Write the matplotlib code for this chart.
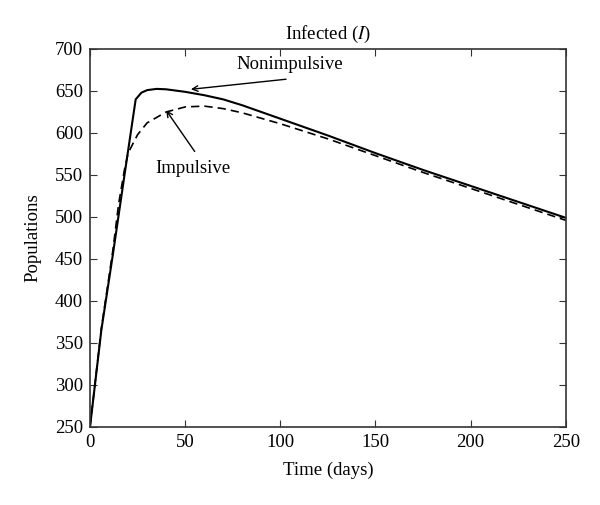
import matplotlib
matplotlib.use('Agg')
import matplotlib.pyplot as plt

plt.rcParams['font.family'] = ['Liberation Serif', 'DejaVu Serif']
plt.rcParams['mathtext.fontset'] = 'stix'

# Nonimpulsive (solid)
t_non = [0, 6, 12, 18, 24, 27, 30, 35, 40, 50, 60, 70, 80, 100, 125, 150, 175, 200, 225, 250]
i_non = [250, 366, 455, 548, 640, 648, 651, 652.5, 652, 649, 645, 640, 633, 617, 597, 576, 556, 537, 518, 499]

# Impulsive (dashed)
t_imp = [0, 6, 12, 15, 18, 20, 25, 30, 40, 50, 60, 70, 80, 100, 125, 150, 175, 200, 225, 250]
i_imp = [250, 368, 460, 515, 555, 576, 598, 612, 625, 631, 632, 629, 624, 611, 593, 573, 553, 534, 515, 496]

fs = 13.5

fig = plt.figure(figsize=(6, 5.05), dpi=100)
ax = fig.add_axes([0.15, 0.1545, 0.793, 0.7485])

ax.plot(t_non, i_non, color='black', lw=1.5)
ax.plot(t_imp, i_imp, color='black', lw=1.2, dashes=(5, 3))

ax.set_xlim(0, 250)
ax.set_ylim(250, 700)
ax.set_xticks(range(0, 251, 50))
ax.set_yticks(range(250, 701, 50))
ax.tick_params(direction='in', top=True, right=True, length=5, labelsize=fs,
               color='#333333', pad=5)
for s in ax.spines.values():
    s.set_color('#333333')
    s.set_linewidth(1.2)

ax.set_title('Infected ($I$)', fontsize=fs, pad=7)
ax.set_xlabel('Time (days)', fontsize=fs, labelpad=8)
ax.set_ylabel('Populations', fontsize=fs, labelpad=10)

# annotations
ax.text(105, 681, 'Nonimpulsive', fontsize=fs, ha='center', va='center')
ax.annotate('', xy=(53, 652), xytext=(103, 664),
            arrowprops=dict(arrowstyle='->', color='black', lw=1, shrinkA=0, shrinkB=0))
ax.text(54, 558, 'Impulsive', fontsize=fs, ha='center', va='center')
ax.annotate('', xy=(40, 627), xytext=(55, 578),
            arrowprops=dict(arrowstyle='->', color='black', lw=1, shrinkA=0, shrinkB=0))

fig.savefig('out.png', dpi=100)
